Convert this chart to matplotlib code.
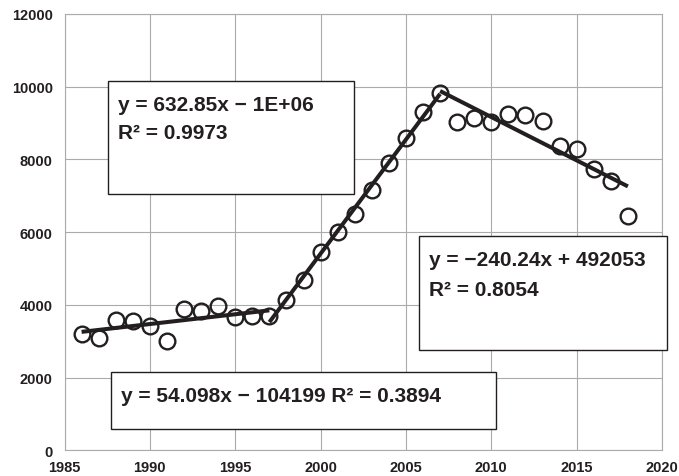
import numpy as np
import matplotlib
matplotlib.use("Agg")
import matplotlib.pyplot as plt
from matplotlib.patches import Rectangle

plt.rcParams['font.family'] = ['Liberation Sans', 'DejaVu Sans']
plt.rcParams['font.weight'] = 'bold'

years = list(range(1986, 2019))
values = [3200, 3100, 3600, 3570, 3430, 3020, 3890, 3840, 3980, 3660, 3690, 3700,
          4150, 4700, 5450, 6020, 6500, 7170, 7900, 8580, 9310, 9840,
          9040, 9130, 9040, 9250, 9220, 9070, 8360, 8290, 7740, 7420, 6450]

# fit ranges (inclusive) for the three trend lines
segments = [(1986, 1997), (1997, 2007), (2007, 2018)]

labels = [
    ["y = 54.098x − 104199 R² = 0.3894"],
    ["y = 632.85x − 1E+06", "R² = 0.9973"],
    ["y = −240.24x + 492053", "R² = 0.8054"],
]

xticks = list(range(1985, 2021, 5))
yticks = list(range(0, 12001, 2000))

ink = '#231f20'

fig = plt.figure(figsize=(6.79, 4.77), dpi=100)
ax = fig.add_axes([0.095, 0.0535, 0.88, 0.9151])

x = np.array(years)
y = np.array(values)

ax.plot(x, y, 'o', ms=11.3, mfc='none', mec=ink, mew=1.7, zorder=3)

for a, b in segments:
    m = (x >= a) & (x <= b)
    k, c = np.polyfit(x[m], y[m], 1)
    xs = np.array([a, b])
    ax.plot(xs, k * xs + c, color=ink, lw=2.9, zorder=4, solid_capstyle='butt')

ax.set_xlim(1985, 2020)
ax.set_ylim(0, 12000)
ax.set_xticks(xticks)
ax.set_yticks(yticks)
ax.grid(True, color='#ababab', lw=0.8)
ax.set_axisbelow(True)
for s in ax.spines.values():
    s.set_color('#ababab')
    s.set_linewidth(0.8)
ax.tick_params(length=0, labelsize=10.5, colors=ink)
ax.tick_params(axis='x', pad=6.5)
ax.tick_params(axis='y', pad=8.5)

# text boxes: (x0, y0, x1, y1) in axes fraction
boxes = [(0.0773, 0.0493, 0.7222, 0.1792),
         (0.0723, 0.5876, 0.4850, 0.8472),
         (0.5933, 0.2309, 1.0089, 0.4907)]
text_pos = [(0.0946, [0.1141]),
            (0.0890, [0.7808, 0.7152]),
            (0.6105, [0.4257, 0.3562])]

for (x0, y0, x1, y1), (tx, tys), lines in zip(boxes, text_pos, labels):
    ax.add_patch(Rectangle((x0, y0), x1 - x0, y1 - y0, transform=ax.transAxes,
                           facecolor='white', edgecolor=ink, lw=1.0,
                           clip_on=False, zorder=5))
    for ty, line in zip(tys, lines):
        ax.text(tx, ty, line, transform=ax.transAxes, fontsize=15,
                fontweight='bold', color=ink, va='baseline', ha='left', zorder=6)

fig.savefig('out.png', dpi=100)
